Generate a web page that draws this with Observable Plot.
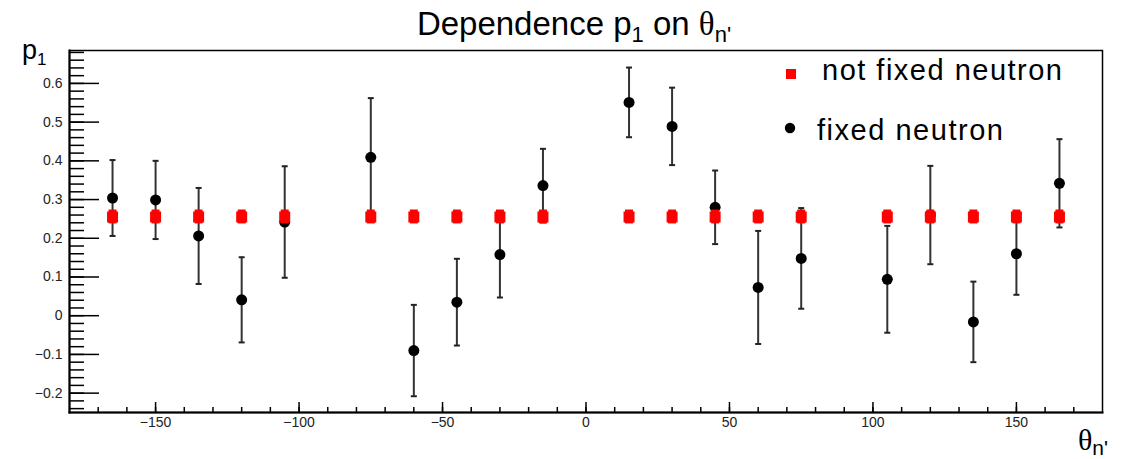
<!DOCTYPE html>
<html><head><meta charset="utf-8">
<script src="https://cdn.jsdelivr.net/npm/d3@7"></script>
<script src="https://cdn.jsdelivr.net/npm/@observablehq/plot@0.6"></script>
<style>html,body{margin:0;padding:0;background:#fff;} svg{display:block}</style>
</head><body><div id="chart"></div>
<script>
// ---- data ----
const theta = [-165, -150, -135, -120, -105, -75, -60, -45, -30, -15, 15, 30, 45, 60, 75, 105, 120, 135, 150, 165];
const fixedP1 = [0.304, 0.299, 0.206, 0.041, 0.242, 0.409, -0.090, 0.035, 0.158, 0.336, 0.551, 0.489, 0.280, 0.073, 0.148, 0.094, 0.260, -0.016, 0.160, 0.342];
const fixedErr = [0.098, 0.101, 0.124, 0.110, 0.144, 0.153, 0.118, 0.112, 0.111, 0.095, 0.090, 0.100, 0.095, 0.146, 0.130, 0.138, 0.127, 0.104, 0.106, 0.114];
const notFixedP1 = [0.255, 0.255, 0.255, 0.255, 0.255, 0.255, 0.255, 0.255, 0.255, 0.255, 0.255, 0.255, 0.255, 0.255, 0.255, 0.255, 0.255, 0.255, 0.255, 0.255];
const notFixedErr = [0.018, 0.018, 0.018, 0.018, 0.018, 0.018, 0.018, 0.018, 0.018, 0.018, 0.018, 0.018, 0.018, 0.018, 0.018, 0.018, 0.018, 0.018, 0.018, 0.018];
const xMajor = [-150, -100, -50, 0, 50, 100, 150];
const yMajor = [-0.2, -0.1, 0, 0.1, 0.2, 0.3, 0.4, 0.5, 0.6];
const yMajorLabels = ["\u22120.2", "\u22120.1", "0", "0.1", "0.2", "0.3", "0.4", "0.5", "0.6"];
const xMinor = d3.range(-170, 171, 10);
const yMinor = d3.range(-24, 69, 2).map(v => v / 100);
const legendLabels = ["not fixed neutron", "fixed neutron"];

// ---- layout ----
const W = 1122, H = 459, mL = 69, mR = 20, mT = 50, mB = 47;
const plotW = W - mL - mR, plotH = H - mT - mB;

const fixedData = theta.map((t, i) => ({t, y: fixedP1[i], lo: fixedP1[i] - fixedErr[i], hi: fixedP1[i] + fixedErr[i]}));
const nfData = theta.map((t, i) => ({t, y: notFixedP1[i], lo: notFixedP1[i] - notFixedErr[i], hi: notFixedP1[i] + notFixedErr[i]}));
const capSymbol = {draw(ctx, size) { const r = Math.sqrt(size / Math.PI); ctx.moveTo(-r, 0); ctx.lineTo(r, 0); }};

const plot = Plot.plot({
  width: W, height: H, marginLeft: mL, marginRight: mR, marginTop: mT, marginBottom: mB,
  style: {fontFamily: "'Liberation Sans', Arial, sans-serif", background: "#fff", overflow: "visible"},
  x: {domain: [-180, 180]},
  y: {domain: [-0.25, 0.685]},
  marks: [
    Plot.axisX(xMajor, {tickSize: 0, tickPadding: 5, fontSize: 14, label: null, color: "#222"}),
    Plot.axisY(yMajor, {tickSize: 0, tickPadding: 7, fontSize: 14, label: null, color: "#222",
      tickFormat: (d, i) => yMajorLabels[yMajor.indexOf(d)]}),
    Plot.tickY(yMinor, {y: d => d, insetRight: plotW - 15, stroke: "#000", strokeWidth: 1.5}),
    Plot.tickY(yMajor, {y: d => d, insetRight: plotW - 30, stroke: "#000", strokeWidth: 1.5}),
    Plot.tickX(xMinor, {x: d => d, insetTop: plotH - 5, stroke: "#000", strokeWidth: 1.5}),
    Plot.tickX(xMajor, {x: d => d, insetTop: plotH - 10, stroke: "#000", strokeWidth: 1.5}),
    Plot.frame({stroke: "#000", strokeWidth: 1.5}),
    Plot.frame({anchor: "left", stroke: "#000", strokeWidth: 2}),
    Plot.frame({anchor: "bottom", stroke: "#000", strokeWidth: 2}),
    Plot.ruleX(fixedData, {x: "t", y1: "lo", y2: "hi", stroke: "#333", strokeWidth: 2}),
    Plot.dot(fixedData, {x: "t", y: "lo", symbol: capSymbol, r: 3, fill: "none", stroke: "#222", strokeWidth: 2}),
    Plot.dot(fixedData, {x: "t", y: "hi", symbol: capSymbol, r: 3, fill: "none", stroke: "#222", strokeWidth: 2}),
    Plot.dot(fixedData, {x: "t", y: "y", r: 5.5, fill: "#000", stroke: "none"}),
    Plot.ruleX(nfData, {x: "t", y1: "lo", y2: "hi", stroke: "#ff0000", strokeWidth: 8}),
    Plot.dot(nfData, {x: "t", y: "y", symbol: "square", r: 6.2, fill: "#ff0000", stroke: "none"})
  ]
});
document.getElementById("chart").appendChild(plot);

// ---- texts ----
const svg = d3.select(plot);
const sans = "'Liberation Sans', Arial, sans-serif";
const serif = "'Liberation Serif', 'Times New Roman', serif";

const title = svg.append("text").attr("x", 574).attr("y", 35).attr("text-anchor", "middle")
  .attr("fill", "#000").style("font-family", sans).style("font-size", "33px");
title.append("tspan").text("Dependence p");
title.append("tspan").attr("dy", 7).style("font-size", "22px").text("1");
title.append("tspan").attr("dy", -7).text(" on ");
title.append("tspan").style("font-family", serif).text("θ");
title.append("tspan").attr("dy", 7).style("font-size", "22px").text("n'");

const ylab = svg.append("text").attr("x", 22).attr("y", 59).attr("text-anchor", "start").attr("fill", "#000")
  .style("font-family", sans).style("font-size", "27px");
ylab.append("tspan").text("p");
ylab.append("tspan").attr("dy", 6).style("font-size", "17px").text("1");

const xlab = svg.append("text").attr("x", 1108).attr("y", 450).attr("text-anchor", "end").attr("fill", "#000")
  .style("font-family", sans).style("font-size", "30px");
xlab.append("tspan").style("font-family", serif).text("θ");
xlab.append("tspan").attr("dy", 5).style("font-size", "21px").text("n'");

// legend
svg.append("rect").attr("x", 786).attr("y", 69).attr("width", 10).attr("height", 10).attr("fill", "#ff0000");
svg.append("text").attr("x", 822).attr("y", 80).attr("text-anchor", "start").attr("fill", "#000").style("font-family", sans)
  .style("font-size", "29px").attr("textLength", 240).attr("lengthAdjust", "spacing").text(legendLabels[0]);
svg.append("circle").attr("cx", 790).attr("cy", 128).attr("r", 5.2).attr("fill", "#000");
svg.append("text").attr("x", 817).attr("y", 140).attr("text-anchor", "start").attr("fill", "#000").style("font-family", sans)
  .style("font-size", "29px").attr("textLength", 186).attr("lengthAdjust", "spacing").text(legendLabels[1]);
</script>
</body></html>
